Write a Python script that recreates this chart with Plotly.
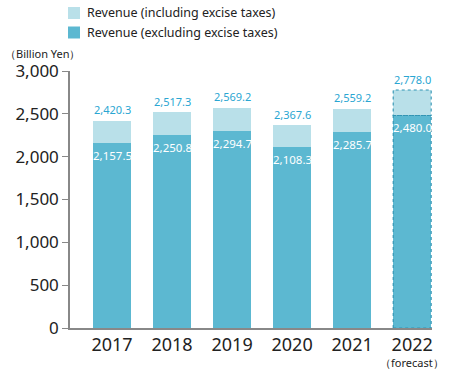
import plotly.graph_objects as go

years = ["2017", "2018", "2019", "2020", "2021", "2022"]
incl = [2420.3, 2517.3, 2569.2, 2367.6, 2559.2, 2778.0]
excl = [2157.5, 2250.8, 2294.7, 2108.3, 2285.7, 2480.0]
y_ticks = [0, 500, 1000, 1500, 2000, 2500, 3000]
forecast_index = 5
forecast_note = "（forecast）"
name_incl = "Revenue (including excise taxes)"
name_excl = "Revenue (excluding excise taxes)"
unit_label = "（Billion Yen）"

DARK = "#5cb8d1"
LIGHT = "#b9e0e9"
LABEL = "#2aa6d2"
FONT = "Noto Sans"
BAR_W = 0.633

xs = list(range(len(years)))
diff = [round(a - b, 1) for a, b in zip(incl, excl)]

fig = go.Figure()
fig.add_trace(go.Bar(x=xs, y=excl, name=name_excl,
                     marker=dict(color=DARK, line=dict(width=0)), width=BAR_W,
                     hoverinfo="skip"))
fig.add_trace(go.Bar(x=xs, y=diff, name=name_incl,
                     marker=dict(color=LIGHT, line=dict(width=0)), width=BAR_W,
                     hoverinfo="skip"))

for i, (a, b) in enumerate(zip(incl, excl)):
    fig.add_annotation(x=i, y=a, text=f"{a:,.1f}", showarrow=False, yshift=11,
                       font=dict(family=FONT, size=11, color=LABEL))
    fig.add_annotation(x=i, y=b, text=f"{b:,.1f}", showarrow=False, yshift=-12,
                       font=dict(family=FONT, size=11.5, color="white"))

# dashed outlines for forecast bar
fi = forecast_index
for y0, y1 in [(0, excl[fi]), (excl[fi], incl[fi])]:
    fig.add_shape(type="rect", xref="x", yref="y",
                  x0=fi - BAR_W / 2, x1=fi + BAR_W / 2, y0=y0, y1=y1,
                  line=dict(color="#3194b3", width=1.1, dash="dot"))

# forecast note under the 2022 tick label
fig.add_annotation(x=fi, xref="x", yref="paper", y=0, yanchor="top", yshift=-25,
                   text=forecast_note, showarrow=False,
                   font=dict(size=11, family=FONT, color="#222"))

# manual legend
W, H = 450, 370
ML, MR, MT, MB = 70, 18, 71, 42
PW, PH = W - ML - MR, H - MT - MB
def px(xp):
    return (xp - ML) / PW
def py(yp):
    return (H - MB - yp) / PH

for k, (nm, col) in enumerate([(name_incl, LIGHT), (name_excl, DARK)]):
    cy = 13 + 19.5 * k
    fig.add_shape(type="rect", xref="paper", yref="paper",
                  x0=px(68), x1=px(80), y0=py(cy + 6), y1=py(cy - 6),
                  fillcolor=col, line=dict(width=0))
    fig.add_annotation(xref="paper", yref="paper", x=px(85), y=py(cy),
                       xanchor="left", yanchor="middle", text=nm, showarrow=False,
                       font=dict(size=12.5, family=FONT, color="#222"))

fig.add_annotation(xref="paper", yref="paper", x=px(3), y=py(53),
                   xanchor="left", yanchor="middle", text=unit_label,
                   showarrow=False, font=dict(size=11, family=FONT, color="#222"))

fig.update_layout(
    width=W, height=H,
    margin=dict(l=ML, r=MR, t=MT, b=MB, autoexpand=False),
    barmode="stack", bargap=0.37,
    plot_bgcolor="white", paper_bgcolor="white",
    font=dict(family=FONT, color="#222"),
    showlegend=False,
    xaxis=dict(tickvals=xs, ticktext=years, range=[-0.7, 5.33],
               showline=True, linecolor="#888", linewidth=1.5, ticks="",
               tickfont=dict(size=18, family=FONT, color="#222"), showgrid=False,
               zeroline=False, fixedrange=True, tickangle=0),
    yaxis=dict(range=[0, 3000], tickvals=y_ticks,
               tickformat=",d", showline=True, linecolor="#888", linewidth=1.5,
               ticks="outside", ticklen=6, tickcolor="#888", tickwidth=1.2,
               tickfont=dict(size=17, family=FONT, color="#222"),
               showgrid=False, zeroline=False, fixedrange=True),
)

fig.write_html("out.html", config={"displayModeBar": False},
               post_script="document.body.style.margin='0';")
